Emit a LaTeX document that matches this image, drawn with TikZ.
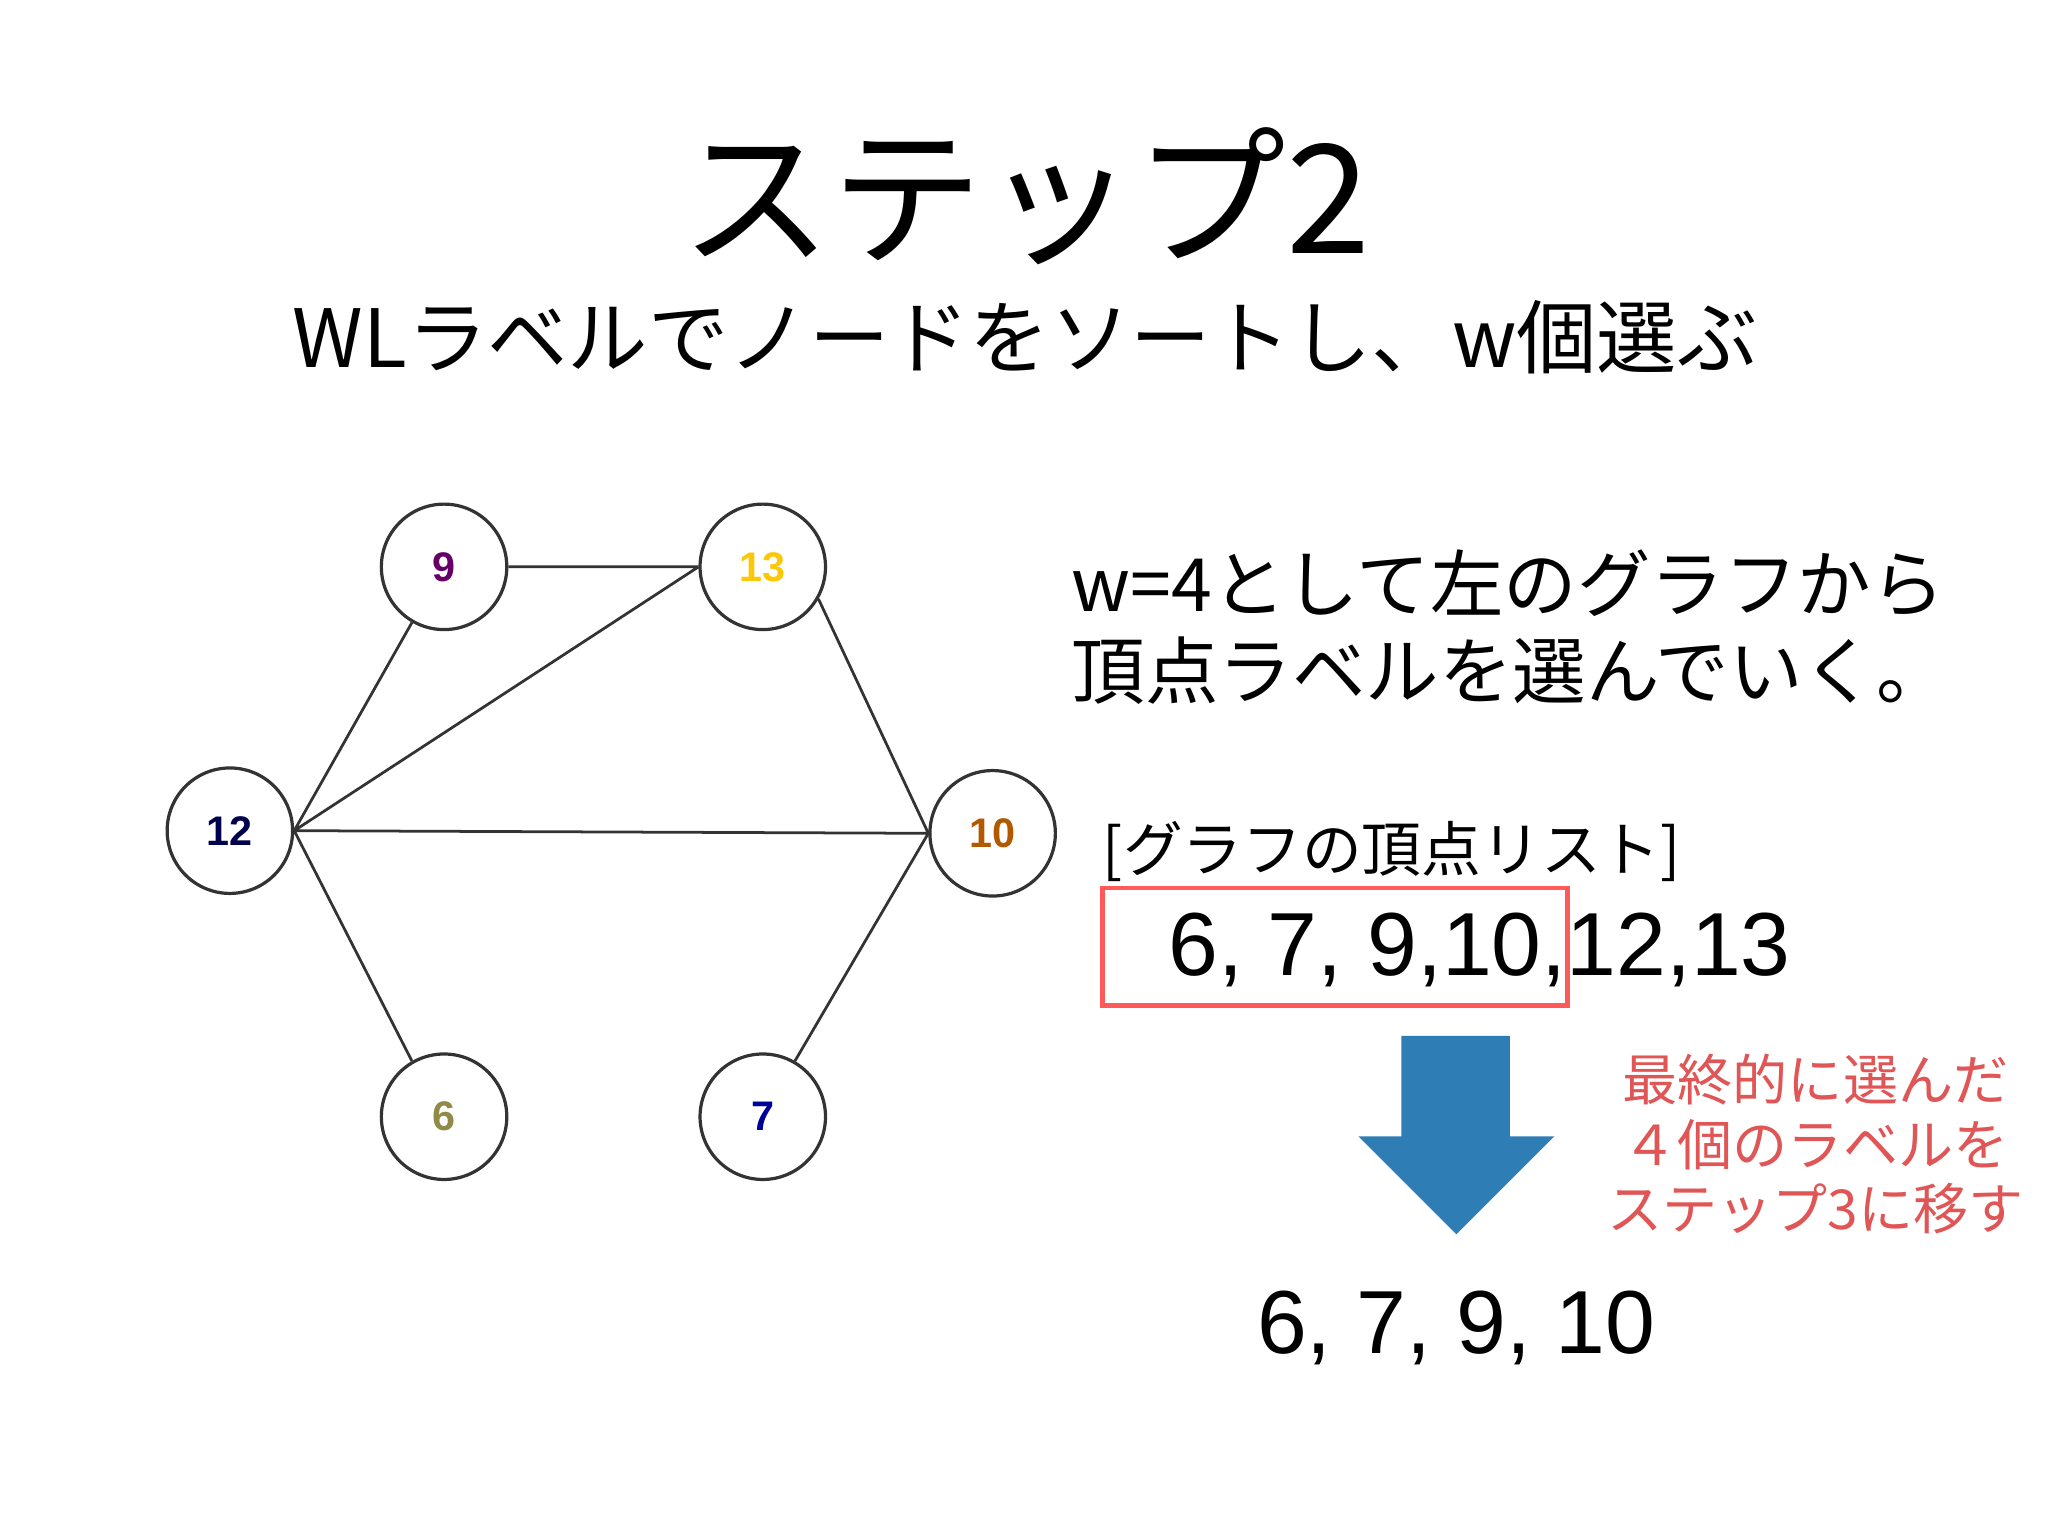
\documentclass[tikz,border=0pt]{standalone}
\usepackage{fontspec}
\setmainfont{Noto Sans CJK JP}
\newfontfamily\lat{Liberation Sans}
\begin{document}
\begin{tikzpicture}[x=0.01cm,y=-0.01cm,
  vtx/.style={circle,draw=black!80,line width=0.7pt,minimum size=0.96cm,inner sep=0pt,font=\lat\fontsize{9}{10}\selectfont\bfseries},
  edge/.style={draw=black!80,line width=0.6pt},
  big/.style={font=\lat\fontsize{19.5}{24}\selectfont}]
\useasboundingbox (0,0) rectangle (1568,1176);
\node[font=\fontsize{33}{38}\selectfont] (title) at (785,150) {ステップ2};
\node[font=\fontsize{17.5}{20}\selectfont] (sub) at (785,258) {WLラベルでノードをソートし、w個選ぶ};
\node[vtx,text=violet!80!black] (n9) at (340,434) {9};
\node[vtx,text=yellow!60!orange] (n13) at (584,434) {13};
\node[vtx,text=blue!30!black] (n12) at (176,636) {12};
\node[vtx,text=orange!70!black] (n10) at (760,638) {10};
\node[vtx,text=yellow!50!black] (n6) at (340,855) {6};
\node[vtx,text=blue!60!black] (n7) at (584,855) {7};
\draw[edge] (n9)--(n13.west) (n12.east)--(n9.240) (n12.east)--(n13.west) (n12.east)--(n10.west) (n12.east)--(n6.120) (n13.-30)--(n10.west) (n10.west)--(n7.60);
\node[anchor=west,align=left,font=\fontsize{16}{19}\selectfont] (desc) at (808,480) {w=4として左のグラフから\\頂点ラベルを選んでいく。};
\node[anchor=west,font=\fontsize{13}{15}\selectfont] (lh) at (832,652) {[グラフの頂点リスト]};
\node[anchor=west,big] (list) at (882,727) {6, 7, 9,10,12,13};
\node[draw=red!65,line width=1pt,minimum width=3.56cm,minimum height=0.9cm,inner sep=0pt] (box) at (1022,725) {};
\fill[fill={rgb,255:red,46;green,125;blue,181}] (1073,793) -- (1156,793) -- (1156,870) -- (1190,870) -- (1115,945) -- (1040,870) -- (1073,870) -- cycle;
\node[text={rgb,255:red,224;green,85;blue,85},align=center,font=\fontsize{12}{14}\selectfont] (note) at (1390,876) {最終的に選んだ\\４個のラベルを\\ステップ3に移す};
\node[big] (res) at (1115,1017) {6, 7, 9, 10};
\end{tikzpicture}
\end{document}
